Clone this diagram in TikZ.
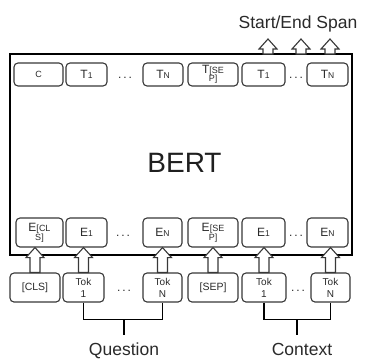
\documentclass[tikz,border=0pt]{standalone}
\usepackage{fontspec}
\setmainfont{Liberation Sans}
\usetikzlibrary{calc}
\definecolor{boxc}{HTML}{383838}
\definecolor{txt}{HTML}{2A2A2A}
\newcommand\fsz[1]{\fontsize{#1}{#1}\selectfont}
\newcommand\blockup[2]{\draw[barrow] let \p1=(#1), \p2=(#2) in
 (\x1-5pt,\y1) -- (\x1-5pt,\y2-10pt) -- (\x1-9pt,\y2-10pt) -- (\x1,\y2) --
 (\x1+9pt,\y2-10pt) -- (\x1+5pt,\y2-10pt) -- (\x1+5pt,\y1) -- cycle;}
\begin{document}
\begin{tikzpicture}[x=1pt,y=-1pt,
  box/.style={draw=boxc, line width=1.1pt, rounded corners=4pt, inner sep=0pt, align=center, text=txt},
  trow/.style={box, minimum height=23pt},
  erow/.style={box, minimum height=29pt},
  krow/.style={box, minimum height=29pt},
  dots/.style={inner sep=0pt, font=\fsz{12}, text=txt},
  barrow/.style={draw=boxc, line width=1.1pt, fill=white, line join=miter},
  brk/.style={draw=black, line width=1.5pt},
  lbl/.style={font=\fsz{17.5}, text=txt, anchor=base, inner sep=0pt}]
\fill[white] (0,0) rectangle (371,360);
\useasboundingbox (0,0) rectangle (371,360);

% BERT box
\node[draw=black, line width=1.7pt, minimum width=342pt, minimum height=201pt, inner sep=0pt] (bert) at (181,154.5) {};
\node[font=\fsz{28}, text=black!88, inner sep=0pt] (bertlabel) at (184.5,162.5) {BERT};

% T row
\node[trow, minimum width=49pt, font=\fsz{9}] (tC) at (38.5,74.5) {C};
\node[trow, minimum width=41pt, font=\fsz{12}] (tA) at (86.5,74.5) {T{\fsz{8.5}1}};
\node[trow, minimum width=40pt, font=\fsz{12}] (tB) at (163,74.5) {T{\fsz{8.5}N}};
\node[trow, minimum width=50pt, font=\fsz{9}] (tS) at (213,74.5) {{\fsz{12}T}[SE\\[-1pt]P]};
\node[trow, minimum width=43pt, font=\fsz{12}] (tD) at (263.5,74.5) {T{\fsz{8.5}1}};
\node[trow, minimum width=41pt, font=\fsz{12}] (tE) at (327.5,74.5) {T{\fsz{8.5}N}};
\node[dots] (td1) at (125,78) {.\hspace{2pt}.\hspace{2pt}.};
\node[dots] (td2) at (296,78) {.\hspace{2pt}.\hspace{2pt}.};

% E row
\node[erow, minimum width=47pt, font=\fsz{9}] (eC) at (39.5,232.5) {{\fsz{12}E}[CL\\[0pt]S]};
\node[erow, minimum width=41pt, font=\fsz{12}] (eA) at (86.5,232.5) {E{\fsz{8.5}1}};
\node[erow, minimum width=39pt, font=\fsz{12}] (eB) at (162.5,232.5) {E{\fsz{8.5}N}};
\node[erow, minimum width=50pt, font=\fsz{9}] (eS) at (213,232.5) {{\fsz{12}E}[SE\\[0pt]P]};
\node[erow, minimum width=43pt, font=\fsz{12}] (eD) at (263.5,232.5) {E{\fsz{8.5}1}};
\node[erow, minimum width=41pt, font=\fsz{12}] (eE) at (327.5,232.5) {E{\fsz{8.5}N}};
\node[dots] (ed1) at (123,236) {.\hspace{2pt}.\hspace{2pt}.};
\node[dots] (ed2) at (296,236) {.\hspace{2pt}.\hspace{2pt}.};

% Tok row
\node[krow, minimum width=50pt, font=\fsz{10.5}] (kC) at (35,287.5) {[CLS]};
\node[krow, minimum width=41pt, font=\fsz{10}] (kA) at (83.5,287.5) {Tok\\[2pt]1};
\node[krow, minimum width=39pt, font=\fsz{10}] (kB) at (162.5,287.5) {Tok\\[2pt]N};
\node[krow, minimum width=50pt, font=\fsz{10.5}] (kS) at (213,287.5) {[SEP]};
\node[krow, minimum width=44pt, font=\fsz{10}] (kD) at (264,287.5) {Tok\\[2pt]1};
\node[krow, minimum width=39pt, font=\fsz{10}] (kE) at (330.5,287.5) {Tok\\[2pt]N};
\node[dots] (kd1) at (124,291) {.\hspace{2pt}.\hspace{2pt}.};
\node[dots] (kd2) at (298,291) {.\hspace{2pt}.\hspace{2pt}.};

% arrows Tok -> E
\blockup{kC.north}{kC.north |- eC.south}
\blockup{kA.north}{kA.north |- eA.south}
\blockup{kB.north}{kB.north |- eB.south}
\blockup{kS.north}{kS.north |- eS.south}
\blockup{kD.north}{kD.north |- eD.south}
\blockup{kE.north}{kE.north |- eE.south}

% output arrows
\coordinate (s1) at (268,54);  \coordinate (o1) at (268,39);
\coordinate (s2) at (301,54);  \coordinate (o2) at (301,39);
\coordinate (s3) at (330,54);  \coordinate (o3) at (330,39);
\blockup{s1}{o1}
\blockup{s2}{o2}
\blockup{s3}{o3}
\node[lbl] (span) at (298,28) {Start/End Span};

% brackets
\draw[brk] (kA.south) -- ++(0,17) -| (kB.south);
\coordinate (qm) at (124,319);
\draw[brk] (qm) -- ++(0,16);
\node[lbl] (question) at (124,355) {Question};

\draw[brk] (kD.south) -- ++(0,17) -| (kE.south);
\coordinate (cm) at (297,319);
\draw[brk] (cm) -- ++(0,16);
\node[lbl] (context) at (302,355) {Context};
\end{tikzpicture}
\end{document}
